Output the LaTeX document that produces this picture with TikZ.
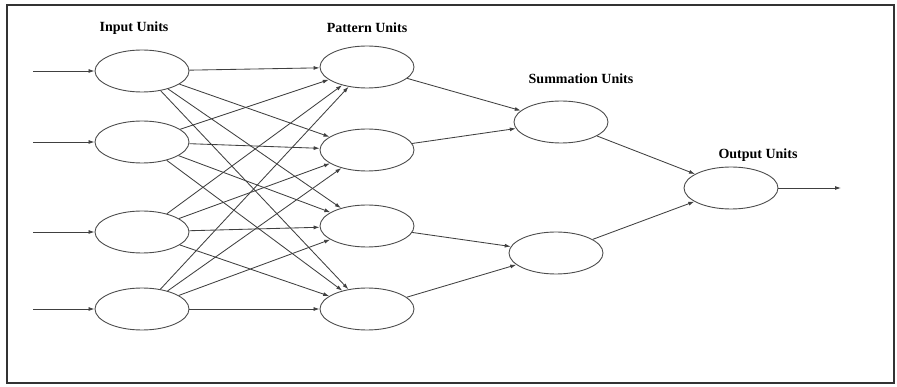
\documentclass[tikz,border=0pt]{standalone}
\usepackage{fontspec}
\setmainfont{Liberation Serif}
\usetikzlibrary{shapes.geometric,arrows.meta}
\begin{document}
\begin{tikzpicture}[x=1pt,y=-1pt,
  unit/.style={ellipse,draw=black!70,line width=0.9pt,minimum width=94pt,minimum height=42pt,inner sep=0pt},
  conn/.style={draw=black!75,line width=0.85pt,-{Latex[length=6pt,width=4pt]}},
  lbl/.style={font=\bfseries\fontsize{14}{16}\selectfont,inner sep=0pt}]
\useasboundingbox (0,0) rectangle (897,387);
\draw[black!80,line width=1.6pt] (7,5) rectangle (894,383);
% input units
\node[unit] (i1) at (142,71) {};
\node[unit] (i2) at (142,142) {};
\node[unit] (i3) at (142,232) {};
\node[unit] (i4) at (142,309) {};
% pattern units
\node[unit] (p1) at (367,67) {};
\node[unit] (p2) at (367,150) {};
\node[unit] (p3) at (367,226) {};
\node[unit] (p4) at (367,309) {};
% summation units
\node[unit] (s1) at (561,122) {};
\node[unit] (s2) at (556,253) {};
% output unit
\node[unit] (o) at (731,188) {};
% labels
\node[lbl] (li) at (134,28) {Input Units};
\node[lbl] (lp) at (367,28) {Pattern Units};
\node[lbl] (ls) at (581,79) {Summation Units};
\node[lbl] (lo) at (758,155) {Output Units};
% free ends
\coordinate (a1) at (33,71);
\coordinate (a2) at (33,142);
\coordinate (a3) at (33,232);
\coordinate (a4) at (33,309);
\coordinate (out) at (841,188);
\foreach \k in {1,2,3,4} {\draw[conn] (a\k) -- (i\k.west);}
\foreach \i in {1,2,3,4} {
  \foreach \p in {1,2,3,4} {
    \draw[conn] (i\i) -- (p\p);
  }
}
\draw[conn] (p1) -- (s1);
\draw[conn] (p2) -- (s1);
\draw[conn] (p3) -- (s2);
\draw[conn] (p4) -- (s2);
\draw[conn] (s1) -- (o);
\draw[conn] (s2) -- (o);
\draw[conn] (o.east) -- (out);
\end{tikzpicture}
\end{document}
